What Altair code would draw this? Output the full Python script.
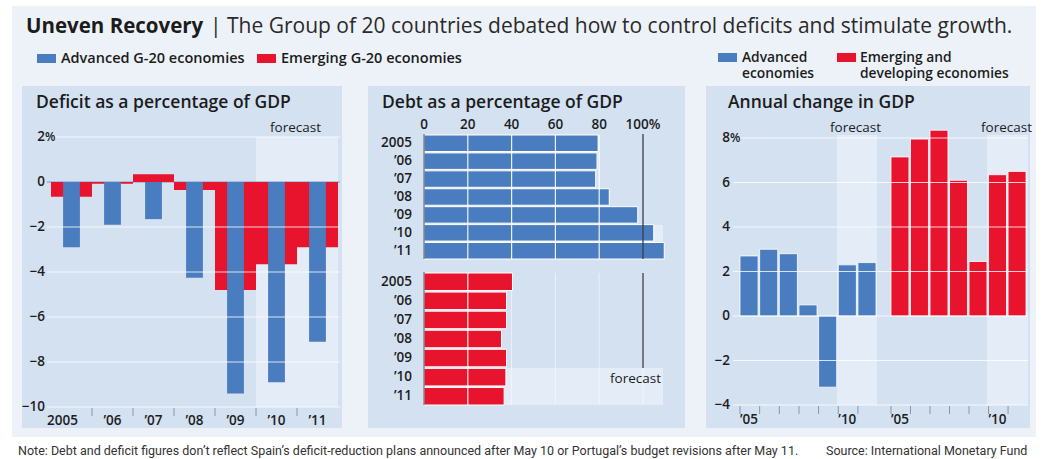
import altair as alt
import pandas as pd

# ---------------- data ----------------
years = ["2005", "2006", "2007", "2008", "2009", "2010", "2011"]
year_labels = ["2005", "’06", "’07", "’08", "’09", "’10", "’11"]
forecast_years = ["2010", "2011"]

deficit_adv = [-2.9, -1.9, -1.65, -4.25, -9.4, -8.9, -7.1]
deficit_emg = [-0.65, -0.08, 0.35, -0.35, -4.8, -3.65, -2.9]

debt_adv = [79.5, 79.0, 78.4, 84.6, 97.6, 104.9, 109.7]
debt_emg = [40.4, 37.7, 37.7, 35.4, 37.7, 37.4, 36.6]

gdp_adv = [2.7, 3.0, 2.8, 0.5, -3.2, 2.3, 2.4]
gdp_emg = [7.15, 7.95, 8.35, 6.1, 2.45, 6.35, 6.5]

deficit_domain = [-10, 2]
deficit_ticks = [2, 0, -2, -4, -6, -8, -10]
deficit_tick_labels = ["2", "0", "−2", "−4", "−6", "−8", "−10"]
deficit_grid = [2, -2, -4, -6, -8, -10]

debt_domain = [0, 100]
debt_ticks = [0, 20, 40, 60, 80, 100]
debt_tick_labels = ["0", "20", "40", "60", "80", "100%"]
debt_grid = [20, 40, 60, 80]

gdp_domain = [-4, 8]
gdp_ticks = [8, 6, 4, 2, 0, -2, -4]
gdp_tick_labels = ["8", "6", "4", "2", "0", "−2", "−4"]
gdp_grid = [8, 6, 4, 2, 0, -2, -4]
gdp_x_years = ["2005", "2010"]
gdp_x_labels = ["’05", "’10"]

title_bold = "Uneven Recovery"
title_rest = "| The Group of 20 countries debated how to control deficits and stimulate growth."
legend_left = ["Advanced G-20 economies", "Emerging G-20 economies"]
legend_right = [["Advanced", "economies"], ["Emerging and", "developing economies"]]
panel_titles = ["Deficit as a percentage of GDP", "Debt as a percentage of GDP", "Annual change in GDP"]
note = ("Note: Debt and deficit figures don’t reflect Spain’s deficit-reduction plans announced "
        "after May 10 or Portugal’s budget revisions after May 11.")
source = "Source: International Monetary Fund"

# ---------------- styles ----------------
BLUE = "#4a7dbf"
RED = "#e8132d"
PANEL = "#d3e1f1"
FORE = "#e3ecf7"
PAGE = "#edf2f8"
TEXT = "#1c1c1c"
FONT = "Open Sans"
NARROW = "'Liberation Sans Narrow', 'Roboto', sans-serif"
TICK = 13.5

one = pd.DataFrame({"k": [0]})


def box(x1, x2, y1, y2, color):
    return alt.Chart(one).mark_rect(color=color).encode(
        x=alt.value(x1), x2=alt.value(x2), y=alt.value(y1), y2=alt.value(y2))


def label(text, x, y, size=13, weight=600, align="left", baseline="middle",
          font=FONT, color=TEXT):
    return alt.Chart(one).mark_text(
        text=text, align=align, baseline=baseline, fontSize=size,
        fontWeight=weight, font=font, color=color).encode(x=alt.value(x), y=alt.value(y))


layers = []

# page + panel backgrounds
layers += [
    box(12, 1036, 6, 437, PAGE),
    box(22, 342, 86, 428, PANEL),
    box(368, 685, 86, 428, PANEL),
    box(706, 1030, 86, 428, PANEL),
]

# header
layers += [
    label(title_bold, 26, 33, size=20.5, weight=700, baseline="alphabetic"),
    label(title_rest, 210, 33, size=21, weight=400, baseline="alphabetic", color="#2a2a2a"),
    box(37, 56, 54, 63, BLUE),
    label(legend_left[0], 61, 58.5, size=14.5),
    box(257, 276, 54, 63, RED),
    label(legend_left[1], 281, 58.5, size=14.5),
    box(718, 737, 53, 62, BLUE),
    label(legend_right[0][0], 742, 61.5, size=13.8, baseline="alphabetic"),
    label(legend_right[0][1], 742, 77.5, size=13.8, baseline="alphabetic"),
    box(837, 856, 53, 62, RED),
    label(legend_right[1][0], 860, 61.5, size=13.8, baseline="alphabetic"),
    label(legend_right[1][1], 860, 77.5, size=13.8, baseline="alphabetic"),
]

# panel titles
layers += [
    label(panel_titles[0], 36, 103, size=17.5),
    label(panel_titles[1], 382, 103, size=17.5),
    label(panel_titles[2], 728, 103, size=17.5),
]

# ---------------- panel 1: deficit ----------------
df_def = pd.DataFrame({"year": years, "label": year_labels, "adv": deficit_adv, "emg": deficit_emg})
dx = alt.Scale(type="band", domain=years, range=[51, 338], paddingInner=0, paddingOuter=0)
dy = alt.Scale(domain=deficit_domain, range=[407, 137], nice=False, zero=False)

df_def_fore = pd.DataFrame({"year": forecast_years,
                            "top": [deficit_domain[1]] * len(forecast_years),
                            "bot": [deficit_domain[0]] * len(forecast_years)})
layers.append(alt.Chart(df_def_fore).mark_rect(color=FORE).encode(
    x=alt.X("year:N", scale=dx, axis=None),
    y=alt.Y("top:Q", scale=dy, axis=None), y2="bot:Q"))

layers.append(alt.Chart(pd.DataFrame({"v": [0]})).mark_rule(color="#7d9bc6", strokeWidth=1).encode(
    y=alt.Y("v:Q", scale=dy, axis=None), x=alt.value(47), x2=alt.value(340)))

layers.append(alt.Chart(df_def).mark_bar(color=RED).encode(
    x=alt.X("year:N", scale=dx, axis=None),
    y=alt.Y("emg:Q", scale=dy, axis=None), y2=alt.datum(0)))
layers.append(alt.Chart(df_def).mark_bar(color=BLUE, width=alt.RelativeBandSize(0.41)).encode(
    x=alt.X("year:N", scale=dx, axis=None),
    y=alt.Y("adv:Q", scale=dy, axis=None), y2=alt.datum(0)))

layers.append(alt.Chart(pd.DataFrame({"v": deficit_grid})).mark_rule(
    color="white", strokeWidth=1, opacity=0.8).encode(
    y=alt.Y("v:Q", scale=dy, axis=None), x=alt.value(47), x2=alt.value(340)))

df_def_ticks = pd.DataFrame({"v": deficit_ticks, "t": deficit_tick_labels})
layers.append(alt.Chart(df_def_ticks).mark_text(
    align="right", baseline="middle", fontSize=TICK, fontWeight=600, font=FONT, color=TEXT).encode(
    y=alt.Y("v:Q", scale=dy, axis=None), x=alt.value(45), text="t:N"))
layers.append(alt.Chart(pd.DataFrame({"v": [deficit_ticks[0]]})).mark_text(
    text="%", align="left", baseline="middle", fontSize=12, fontWeight=600, font=FONT, color=TEXT).encode(
    y=alt.Y("v:Q", scale=dy, axis=None), x=alt.value(45)))

layers.append(alt.Chart(df_def.iloc[1:]).mark_rule(color="#8796ab", strokeWidth=1).encode(
    x=alt.X("year:N", scale=dx, axis=None, bandPosition=0), y=alt.value(408), y2=alt.value(416)))
layers.append(alt.Chart(df_def.iloc[1:]).mark_text(
    align="center", baseline="middle", fontSize=TICK, fontWeight=600, font=FONT, color=TEXT).encode(
    x=alt.X("year:N", scale=dx, axis=None, bandPosition=0.5), y=alt.value(421), text="label:N"))
layers.append(alt.Chart(df_def.iloc[:1]).mark_text(
    align="center", baseline="middle", fontSize=TICK, fontWeight=600, font=FONT, color=TEXT, dx=-9).encode(
    x=alt.X("year:N", scale=dx, axis=None, bandPosition=0.5), y=alt.value(421), text="label:N"))
layers.append(label("forecast", 270, 128, size=13.5, weight=500))

# ---------------- panel 2: debt ----------------
df_debt = pd.DataFrame({"year": years, "label": year_labels, "adv": debt_adv, "emg": debt_emg})
mx = alt.Scale(domain=debt_domain, range=[424, 643], nice=False, zero=False)
myt = alt.Scale(type="band", domain=years, range=[135, 259], paddingInner=0.08, paddingOuter=0)
myb = alt.Scale(type="band", domain=years, range=[273, 405], paddingInner=0.08, paddingOuter=0)

layers += [box(424, 663, 225, 259, FORE), box(424, 663, 368, 405, FORE)]

layers.append(alt.Chart(pd.DataFrame({"v": debt_grid + [100]})).mark_rule(
    color="white", strokeWidth=1, opacity=0.55).encode(
    x=alt.X("v:Q", scale=mx, axis=None), y=alt.value(273), y2=alt.value(405)))

layers.append(alt.Chart(df_debt).mark_bar(color=BLUE, stroke="white", strokeWidth=1).encode(
    y=alt.Y("year:N", scale=myt, axis=None),
    x=alt.X("adv:Q", scale=mx, axis=None), x2=alt.datum(0)))
layers.append(alt.Chart(df_debt).mark_bar(color=RED, stroke="white", strokeWidth=1).encode(
    y=alt.Y("year:N", scale=myb, axis=None),
    x=alt.X("emg:Q", scale=mx, axis=None), x2=alt.datum(0)))

layers.append(alt.Chart(pd.DataFrame({"v": debt_grid})).mark_rule(
    color="white", strokeWidth=1.2, opacity=0.9).encode(
    x=alt.X("v:Q", scale=mx, axis=None), y=alt.value(135), y2=alt.value(259)))
layers.append(alt.Chart(pd.DataFrame({"v": [20]})).mark_rule(
    color="white", strokeWidth=1.2, opacity=0.9).encode(
    x=alt.X("v:Q", scale=mx, axis=None), y=alt.value(273), y2=alt.value(405)))

layers.append(alt.Chart(pd.DataFrame({"v": [0]})).mark_rule(color="#4a4f58", strokeWidth=1).encode(
    x=alt.X("v:Q", scale=mx, axis=None), y=alt.value(134), y2=alt.value(259)))
layers.append(alt.Chart(pd.DataFrame({"v": [0]})).mark_rule(color="#4a4f58", strokeWidth=1).encode(
    x=alt.X("v:Q", scale=mx, axis=None), y=alt.value(272), y2=alt.value(405)))
layers.append(alt.Chart(pd.DataFrame({"v": [100]})).mark_rule(color="#3a3d44", strokeWidth=1.3).encode(
    x=alt.X("v:Q", scale=mx, axis=None), y=alt.value(134), y2=alt.value(259)))
layers.append(alt.Chart(pd.DataFrame({"v": [100]})).mark_rule(color="#3a3d44", strokeWidth=1.3).encode(
    x=alt.X("v:Q", scale=mx, axis=None), y=alt.value(273), y2=alt.value(368)))

df_debt_ticks = pd.DataFrame({"v": debt_ticks, "t": debt_tick_labels})
layers.append(alt.Chart(df_debt_ticks).mark_text(
    align="center", baseline="middle", fontSize=TICK, fontWeight=600, font=FONT, color=TEXT).encode(
    x=alt.X("v:Q", scale=mx, axis=None), y=alt.value(125), text="t:N"))
for sc in (myt, myb):
    layers.append(alt.Chart(df_debt).mark_text(
        align="right", baseline="middle", fontSize=TICK, fontWeight=600, font=FONT, color=TEXT).encode(
        y=alt.Y("year:N", scale=sc, axis=None, bandPosition=0.5), x=alt.value(412), text="label:N"))
layers.append(label("forecast", 661, 379, size=13.5, weight=500, align="right"))

# ---------------- panel 3: GDP ----------------
df_gdp = pd.DataFrame({"year": years, "adv": gdp_adv, "emg": gdp_emg})
ry = alt.Scale(domain=gdp_domain, range=[405, 138], nice=False, zero=False)
rxa = alt.Scale(type="band", domain=years, range=[740, 876], paddingInner=0.08, paddingOuter=0)
rxe = alt.Scale(type="band", domain=years, range=[891, 1026], paddingInner=0.08, paddingOuter=0)

layers += [box(837, 877, 135, 405, FORE), box(987, 1028, 135, 405, FORE)]

layers.append(alt.Chart(df_gdp).mark_bar(color=BLUE, stroke="white", strokeWidth=0.8).encode(
    x=alt.X("year:N", scale=rxa, axis=None),
    y=alt.Y("adv:Q", scale=ry, axis=None), y2=alt.datum(0)))
layers.append(alt.Chart(df_gdp).mark_bar(color=RED, stroke="white", strokeWidth=0.8).encode(
    x=alt.X("year:N", scale=rxe, axis=None),
    y=alt.Y("emg:Q", scale=ry, axis=None), y2=alt.datum(0)))

layers.append(alt.Chart(pd.DataFrame({"v": gdp_grid})).mark_rule(
    color="white", strokeWidth=1, opacity=0.8).encode(
    y=alt.Y("v:Q", scale=ry, axis=None), x=alt.value(733), x2=alt.value(1028)))

df_gdp_ticks = pd.DataFrame({"v": gdp_ticks, "t": gdp_tick_labels})
layers.append(alt.Chart(df_gdp_ticks).mark_text(
    align="right", baseline="middle", fontSize=TICK, fontWeight=600, font=FONT, color=TEXT).encode(
    y=alt.Y("v:Q", scale=ry, axis=None), x=alt.value(730), text="t:N"))
layers.append(alt.Chart(pd.DataFrame({"v": [gdp_ticks[0]]})).mark_text(
    text="%", align="left", baseline="middle", fontSize=12, fontWeight=600, font=FONT, color=TEXT).encode(
    y=alt.Y("v:Q", scale=ry, axis=None), x=alt.value(730)))

df_gdp_xl = pd.DataFrame({"year": gdp_x_years, "t": gdp_x_labels})
for sc in (rxa, rxe):
    layers.append(alt.Chart(df_gdp).mark_rule(color="#8796ab", strokeWidth=1).encode(
        x=alt.X("year:N", scale=sc, axis=None, bandPosition=0), y=alt.value(406), y2=alt.value(414)))
    layers.append(alt.Chart(df_gdp_xl).mark_text(
        align="center", baseline="middle", fontSize=TICK, fontWeight=600, font=FONT, color=TEXT).encode(
        x=alt.X("year:N", scale=sc, axis=None, bandPosition=0.5), y=alt.value(420), text="t:N"))

layers.append(label("forecast", 830, 128, size=13.5, weight=500))
layers.append(label("forecast", 981, 128, size=13.5, weight=500))

# footer
layers.append(label(note, 18, 451, size=12.5, weight=400, font=NARROW, color="#333333"))
layers.append(label(source, 826, 451, size=12.5, weight=400, font=NARROW, color="#333333"))

chart = alt.layer(*layers).resolve_scale(x="independent", y="independent").properties(
    width=1047, height=459, padding=0, background="white",
    autosize=alt.AutoSizeParams(type="none"),
).configure_view(strokeWidth=0)

chart.save("out.html", embed_options={"renderer": "svg", "actions": False})
